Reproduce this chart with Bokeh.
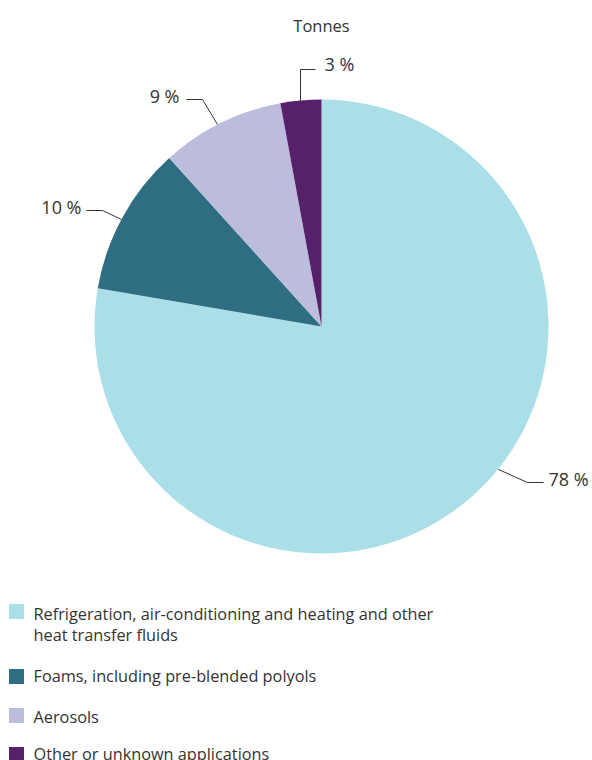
import math
from bokeh.plotting import figure
from bokeh.models import Range1d
from bokeh.core.properties import value
from bokeh.embed import file_html
from bokeh.resources import INLINE

# ---- data ----
title = "Tonnes"
categories = [
    "Refrigeration, air-conditioning and heating and other\nheat transfer fluids",
    "Foams, including pre-blended polyols",
    "Aerosols",
    "Other or unknown applications",
]
shares = [77.7, 10.6, 8.8, 2.9]
share_labels = ["78 %", "10 %", "9 %", "3 %"]
colors = ["#AADFE8", "#2F6E82", "#BCBCDC", "#57206B"]

# ---- layout / style ----
W, H = 592, 760
FONT = "Open Sans"
TXT = "#333333"
CX, CY, R = 321, 326, 227          # pie centre / radius in page pixels

def Y(y):
    return H - y

# label anchor layout (page pixels): leader polyline, text position, alignment
label_layout = [
    dict(line=[(498, 469), (527, 482), (543, 482)], pos=(548, 478), align="left"),
    dict(line=[(121, 219), (102, 210), (86, 210)], pos=(81, 206), align="right"),
    dict(line=[(217, 124), (202, 99), (186, 99)], pos=(179, 95), align="right"),
    dict(line=[(300, 101), (300, 69), (315, 69)], pos=(324, 63), align="left"),
]
legend_rows = [611, 676, 715, 754]       # square centres
legend_text_y = [[613, 634], [675], [716], [753]]

p = figure(width=W, height=H, x_range=Range1d(0, W), y_range=Range1d(0, H),
           output_backend="svg", toolbar_location=None, min_border=0,
           x_axis_location=None, y_axis_location=None)
p.grid.visible = False
p.outline_line_color = None
p.background_fill_color = "white"
p.border_fill_color = "white"

# ---- pie ----
total = sum(shares)
starts, ends = [], []
cum = 0.0
for s in shares:
    starts.append(math.pi / 2 - 2 * math.pi * cum / total)
    cum += s
    ends.append(math.pi / 2 - 2 * math.pi * cum / total)

p.wedge(x=[CX] * len(shares), y=[Y(CY)] * len(shares), radius=R,
        start_angle=starts, end_angle=ends, direction="clock",
        fill_color=colors, line_color=None)

# ---- labels ----
for lab, lay in zip(share_labels, label_layout):
    xs = [pt[0] for pt in lay["line"]]
    ys = [Y(pt[1]) for pt in lay["line"]]
    p.line(xs, ys, line_color=TXT, line_width=1)
    p.text(x=[lay["pos"][0]], y=[Y(lay["pos"][1])], text=[lab],
           text_font=value(FONT), text_font_size="18px", text_color=TXT,
           text_align=lay["align"], text_baseline="middle")

p.text(x=[CX], y=[Y(25)], text=[title], text_font=value(FONT),
       text_font_size="16.5px", text_color=TXT, text_align="center",
       text_baseline="middle")

# ---- legend ----
p.rect(x=[16] * len(categories), y=[Y(v) for v in legend_rows],
       width=15, height=15, fill_color=colors, line_color=None)
for cat, ys in zip(categories, legend_text_y):
    for line_txt, ty in zip(cat.split("\n"), ys):
        p.text(x=[33], y=[Y(ty)], text=[line_txt], text_font=value(FONT),
               text_font_size="16.3px", text_color=TXT, text_align="left",
               text_baseline="middle")

open("out.html", "w").write(file_html(p, INLINE))
